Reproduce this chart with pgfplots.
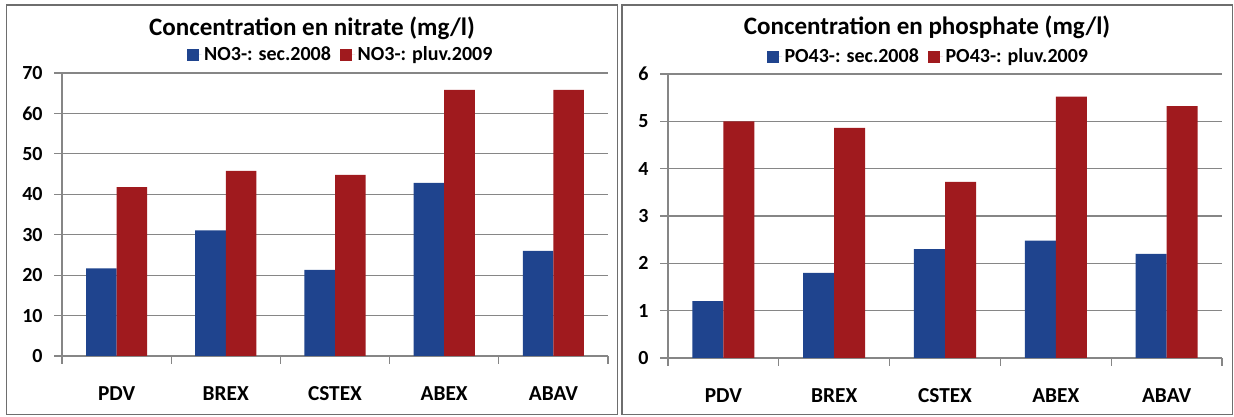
\documentclass[border=0pt]{standalone}
\usepackage{pgfplots}
\pgfplotsset{compat=1.18}
\usepackage{fontspec}
\setmainfont{Carlito}
\definecolor{barblue}{RGB}{31,68,142}
\definecolor{barred}{RGB}{160,26,30}
\definecolor{gridgray}{RGB}{134,134,134}
\definecolor{framegray}{RGB}{110,110,110}

\pgfplotsset{
  mybars/.style={
    scale only axis,
    anchor=south west,
    ybar=0pt,
    bar width=0.28,
    xmin=-0.5, xmax=4.5,
    ymin=0,
    xtick={0,1,2,3,4},
    xticklabels={PDV,BREX,CSTEX,ABEX,ABAV},
    minor xtick={-0.5,0.5,1.5,2.5,3.5,4.5},
    major x tick style={draw=none},
    minor x tick style={draw=gridgray, line width=0.9pt},
    tick align=outside,
    minor tick length=6pt,
    major tick length=6pt,
    ytick style={draw=gridgray, line width=0.9pt},
    axis x line*=bottom,
    axis y line*=left,
    axis line style={draw=gridgray, line width=0.9pt, -},
    ymajorgrids,
    grid style={draw=gridgray, line width=0.9pt},
    /pgf/number format/assume math mode=true,
    xticklabel style={font=\fontsize{16}{18}\selectfont\bfseries, yshift=-13.5pt},
    yticklabel style={font=\fontsize{15}{17}\selectfont\bfseries, xshift=-5pt},
    clip=false,
    legend style={draw=none, fill=none, legend columns=2,
      font=\fontsize{15}{17}\selectfont\bfseries, anchor=center,
      /tikz/every even column/.append style={column sep=5pt},
      inner sep=0pt},
    legend image code/.code={\fill[##1, draw=none] (0pt,-4.5pt) rectangle (9pt,4.5pt);
      \path (0pt,0pt) -- (11pt,0pt);},
  },
}

\begin{document}
\begin{tikzpicture}
\path[use as bounding box] (0pt,0pt) rectangle (925.5pt,312.75pt);
% frames
\draw[framegray, line width=1.3pt] (4.9pt,1.9pt) rectangle (463.1pt,309pt);
\draw[framegray, line width=1.3pt] (466.5pt,1.9pt) rectangle (924.4pt,309pt);

\begin{axis}[mybars,
  at={(46.5pt,45.75pt)}, width=409.5pt, height=212.25pt,
  ymax=70, ytick={0,10,...,70},
  legend style={at={(0.511,1.064)}}]
\addplot[fill=barblue, draw=none] coordinates {(0,21.7) (1,31.1) (2,21.3) (3,42.8) (4,26.0)};
\addplot[fill=barred, draw=none] coordinates {(0,41.8) (1,45.8) (2,44.8) (3,65.8) (4,65.8)};
\legend{NO3-: sec.2008, NO3-: pluv.2009}
\node[font=\fontsize{18.8}{22}\selectfont\bfseries] at (rel axis cs:0.458,1.159) {Concentration en nitrate (mg/l)};
\end{axis}

\begin{axis}[mybars,
  at={(501pt,44.25pt)}, width=415.5pt, height=213pt,
  ymax=6, ytick={0,1,...,6},
  legend style={at={(0.471,1.06)}}]
\addplot[fill=barblue, draw=none] coordinates {(0,1.2) (1,1.8) (2,2.3) (3,2.48) (4,2.2)};
\addplot[fill=barred, draw=none] coordinates {(0,5.0) (1,4.86) (2,3.72) (3,5.52) (4,5.32)};
\legend{PO43-: sec.2008, PO43-: pluv.2009}
\node[font=\fontsize{18.8}{22}\selectfont\bfseries] at (rel axis cs:0.4675,1.165) {Concentration en phosphate (mg/l)};
\end{axis}
\end{tikzpicture}
\end{document}
